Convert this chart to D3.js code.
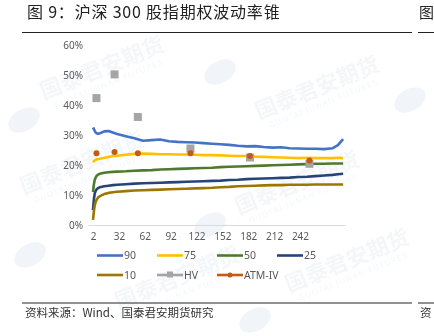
<!DOCTYPE html>
<html><head><meta charset="utf-8">
<script src="https://cdn.jsdelivr.net/npm/d3@7"></script>
<style>
body{margin:0;background:#fff;}
svg{display:block;font-family:"Noto Sans","Noto Sans CJK SC",sans-serif;}
</style></head>
<body>
<svg id="c" width="434" height="336"></svg>
<script>
const days = [2,3,4,5,6,8,10,15,20,25,30,40,50,60,70,80,90,100,110,120,130,140,150,160,170,180,190,200,210,220,230,240,250,260,270,280,286,292];
const p90 = [32.5,32.0,31.4,30.9,30.6,30.4,30.6,31.2,31.3,30.8,30.3,29.6,28.9,28.1,28.3,28.5,27.9,27.7,27.6,27.5,27.3,27.1,26.9,26.7,26.4,26.2,26.3,26.0,25.8,25.9,25.6,25.5,25.4,25.4,25.3,25.6,26.6,28.6];
const p75 = [21.0,21.3,21.5,21.7,21.8,22.0,22.1,22.4,22.7,23.0,23.1,23.4,23.7,23.8,23.7,23.6,23.6,23.5,23.5,23.4,23.3,23.3,23.2,23.1,23.0,23.0,22.8,22.7,22.6,22.5,22.4,22.3,22.4,22.3,22.3,22.3,22.4,22.3];
const p50 = [11.0,13.5,15.0,15.8,16.3,16.8,17.1,17.4,17.6,17.7,17.8,17.9,18.1,18.2,18.3,18.5,18.6,18.7,18.8,18.9,19.0,19.1,19.3,19.4,19.5,19.6,19.7,19.8,19.9,20.0,20.1,20.2,20.3,20.4,20.4,20.5,20.5,20.5];
const p25 = [5.0,8.5,10.5,11.3,11.8,12.3,12.6,12.9,13.1,13.3,13.4,13.6,13.8,13.9,14.0,14.1,14.2,14.3,14.4,14.5,14.6,14.7,14.8,15.0,15.1,15.3,15.4,15.5,15.6,15.7,15.8,16.0,16.1,16.3,16.5,16.7,16.9,17.1];
const p10 = [1.7,4.5,6.5,7.6,8.3,9.2,9.6,10.3,10.7,10.9,11.1,11.3,11.5,11.6,11.7,11.8,11.9,12.0,12.1,12.2,12.3,12.4,12.6,12.7,12.9,13.0,13.1,13.2,13.3,13.3,13.4,13.4,13.4,13.5,13.5,13.5,13.5,13.5];
const markDays = [6,27,54,115,184,253];
const hv = [42.3,50.2,36.0,25.5,22.5,20.4];
const atmIV = [23.9,24.3,23.9,23.9,23.0,21.5];
const xTicks = [2,32,62,92,122,152,182,212,242];
const yTicks = [0,10,20,30,40,50,60];
const series = [
  {name:"90", values:p90, color:"#4472C4"},
  {name:"75", values:p75, color:"#FFC000"},
  {name:"50", values:p50, color:"#4E7A2F"},
  {name:"25", values:p25, color:"#264478"},
  {name:"10", values:p10, color:"#9C7700"}
];

const svg = d3.select("#c");

// watermarks (faint)
const wm = svg.append("g").attr("opacity",0.4);
const wmPos = [[105,75],[320,95],[85,170],[300,190],[180,285],[350,268]];
wmPos.forEach(([cx,cy])=>{
  const g = wm.append("g").attr("transform",`translate(${cx},${cy}) rotate(-22)`);
  g.append("text").attr("text-anchor","middle").attr("font-size",22).attr("font-weight",700)
   .attr("fill","#e3eaf2").text("国泰君安期货");
  g.append("text").attr("y",12).attr("text-anchor","middle").attr("font-size",8).attr("letter-spacing",1.2)
   .attr("fill","#e3eaf2").text("GUOTAI JUNAN FUTURES");
});
const logos = [[220,72],[24,120],[410,100],[210,225],[30,255],[255,320]];
logos.forEach(([cx,cy])=>{
  wm.append("ellipse").attr("cx",cx).attr("cy",cy).attr("rx",17).attr("ry",11)
    .attr("transform",`rotate(-30,${cx},${cy})`).attr("fill","#dbe7f3");
});

// title
svg.append("text").attr("x",27).attr("y",18).attr("font-size",16).attr("letter-spacing",0.8)
  .attr("font-family","'Noto Sans CJK SC',sans-serif").attr("fill","#222")
  .text("图 9：沪深 300 股指期权波动率锥");
svg.append("line").attr("x1",22).attr("x2",412).attr("y1",32.5).attr("y2",32.5).attr("stroke","#222").attr("stroke-width",1);
svg.append("text").attr("x",419).attr("y",18).attr("font-size",15)
  .attr("font-family","'Noto Sans CJK SC',sans-serif").attr("fill","#222").text("图");
svg.append("line").attr("x1",418).attr("x2",434).attr("y1",32.5).attr("y2",32.5).attr("stroke","#222").attr("stroke-width",1);

const x = d3.scaleLinear().domain([-3.8,294.2]).range([88,345]);
const y = d3.scaleLinear().domain([0,60]).range([225,45]);

// y axis
const ya = svg.append("g").attr("transform","translate(88,0)")
  .call(d3.axisLeft(y).tickValues(yTicks).tickSize(0).tickPadding(5).tickFormat(d=>d+"%"));
ya.select(".domain").remove();
ya.selectAll("text").attr("font-size",10).attr("fill","#595959").attr("font-family","'Noto Sans',sans-serif");

// x axis
const xa = svg.append("g").attr("transform","translate(0,225)")
  .call(d3.axisBottom(x).tickValues(xTicks).tickSize(0).tickPadding(8));
xa.select(".domain").attr("stroke","#d9d9d9");
xa.selectAll("text").attr("font-size",10).attr("fill","#595959").attr("font-family","'Noto Sans',sans-serif");

// lines
const line = d3.line().x((d,i)=>x(days[i])).y(d=>y(d));
series.forEach(s=>{
  svg.append("path").datum(s.values).attr("d",line).attr("fill","none")
    .attr("stroke",s.color).attr("stroke-width",2.6).attr("stroke-linejoin","round");
});

// markers
svg.append("g").selectAll("rect").data(hv).join("rect")
  .attr("x",(d,i)=>x(markDays[i])-4).attr("y",d=>y(d)-4).attr("width",8).attr("height",8)
  .attr("fill","#A5A5A5");
svg.append("g").selectAll("circle").data(atmIV).join("circle")
  .attr("cx",(d,i)=>x(markDays[i])).attr("cy",d=>y(d)).attr("r",3)
  .attr("fill","#C55A11");

// legend
const legend = [
  {name:"90", color:"#4472C4", col:0,row:0},
  {name:"75", color:"#FFC000", col:1,row:0},
  {name:"50", color:"#4E7A2F", col:2,row:0},
  {name:"25", color:"#264478", col:3,row:0},
  {name:"10", color:"#9C7700", col:0,row:1},
  {name:"HV", color:"#A5A5A5", col:1,row:1, marker:"rect"},
  {name:"ATM-IV", color:"#C55A11", col:2,row:1, marker:"circle"}
];
const lg = svg.append("g");
legend.forEach(l=>{
  const lx = 97 + l.col*60, ly = 255.5 + l.row*19.5;
  lg.append("line").attr("x1",lx).attr("x2",lx+26).attr("y1",ly).attr("y2",ly)
    .attr("stroke",l.color).attr("stroke-width",2.6);
  if(l.marker==="rect") lg.append("rect").attr("x",lx+10).attr("y",ly-3.5).attr("width",6).attr("height",6).attr("fill",l.color);
  if(l.marker==="circle") lg.append("circle").attr("cx",lx+13).attr("cy",ly).attr("r",2.5).attr("fill",l.color);
  lg.append("text").attr("x",lx+27).attr("y",ly+3.8).attr("font-size",10.5).attr("fill","#595959")
    .attr("font-family","'Noto Sans',sans-serif").text(l.name);
});

// footer
svg.append("line").attr("x1",22).attr("x2",412).attr("y1",303).attr("y2",303).attr("stroke","#222").attr("stroke-width",1);
svg.append("line").attr("x1",418).attr("x2",434).attr("y1",303).attr("y2",303).attr("stroke","#222").attr("stroke-width",1);
svg.append("text").attr("x",25).attr("y",317).attr("font-size",11.5).attr("fill","#333")
  .attr("font-family","'Noto Sans CJK SC',sans-serif").text("资料来源：Wind、国泰君安期货研究");
svg.append("text").attr("x",420).attr("y",317).attr("font-size",11.5).attr("fill","#333")
  .attr("font-family","'Noto Sans CJK SC',sans-serif").text("资");
</script>
</body></html>
